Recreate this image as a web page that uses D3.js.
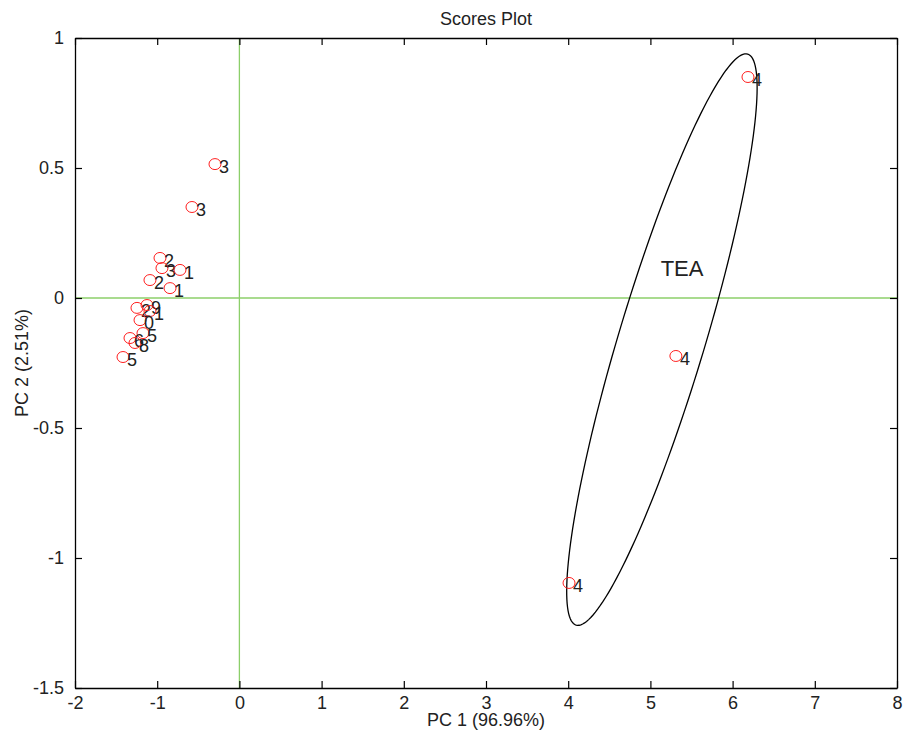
<!DOCTYPE html>
<html>
<head>
<meta charset="utf-8">
<script src="https://cdn.jsdelivr.net/npm/d3@7"></script>
<style>
  body { margin: 0; background: #fff; }
  text { font-family: "Liberation Sans", Arial, sans-serif; }
</style>
</head>
<body>
<div id="container"></div>
<script>
// scores (PC1, PC2) and the label drawn next to each point
let pc1 = [-0.297, -0.577, -0.966, -0.942, -0.723, -1.088, -0.844,
           -1.246, -1.124, -1.088, -1.209, -1.173, -1.331, -1.27, -1.416,
           6.187, 5.31, 4.01];
let pc2 = [0.515, 0.35, 0.154, 0.115, 0.108, 0.069, 0.038,
           -0.038, -0.027, -0.05, -0.085, -0.135, -0.154, -0.173, -0.227,
           0.85, -0.223, -1.096];
let pointLabels = ["3", "3", "2", "3", "1", "2", "1",
                   "2", "9", "1", "0", "5", "6", "8", "5",
                   "4", "4", "4"];

// tick values
let xTicks = [-2, -1, 0, 1, 2, 3, 4, 5, 6, 7, 8];
let yTicks = [-1.5, -1, -0.5, 0, 0.5, 1];

// confidence ellipse round the TEA group (centre + two half-axis vectors, data units)
let ellipseCenter = [5.14, -0.16];
let ellipseMajor = [1.044, 1.098];
let ellipseMinor = [0.502, -0.048];
let groupLabel = { text: "TEA", x: 5.125, y: 0.085 };

let w = 903;
let h = 736;
let padLeft = 75, padRight = 897, padTop = 38, padBottom = 688;
let green = "#8ccf6a";
let fontSize = 18;

let viz = d3.select("#container")
  .append("svg")
    .attr("width", w)
    .attr("height", h);

let xScale = d3.scaleLinear().domain([-2, 8]).range([padLeft, padRight]);
let yScale = d3.scaleLinear().domain([-1.5, 1]).range([padBottom, padTop]);

let fmt = function(d){ return String(d); };

// zero lines
viz.append("line")
  .attr("x1", xScale(0)).attr("x2", xScale(0))
  .attr("y1", padTop).attr("y2", padBottom)
  .attr("stroke", green).attr("stroke-width", 1.3);
viz.append("line")
  .attr("x1", padLeft).attr("x2", padRight)
  .attr("y1", yScale(0)).attr("y2", yScale(0))
  .attr("stroke", green).attr("stroke-width", 1.3);

// axes, ticks pointing inward on all four sides
let xAxisGroup = viz.append("g")
  .attr("transform", "translate(0," + padBottom + ")")
  .call(d3.axisBottom(xScale).tickValues(xTicks).tickFormat(fmt).tickSizeInner(-7).tickSizeOuter(0).tickPadding(8));
let xTopGroup = viz.append("g")
  .attr("transform", "translate(0," + padTop + ")")
  .call(d3.axisTop(xScale).tickValues(xTicks).tickFormat("").tickSizeInner(-7).tickSizeOuter(0));
let yAxisGroup = viz.append("g")
  .attr("transform", "translate(" + padLeft + ",0)")
  .call(d3.axisLeft(yScale).tickValues(yTicks).tickFormat(fmt).tickSizeInner(-7).tickSizeOuter(0).tickPadding(11));
let yRightGroup = viz.append("g")
  .attr("transform", "translate(" + padRight + ",0)")
  .call(d3.axisRight(yScale).tickValues(yTicks).tickFormat("").tickSizeInner(-7).tickSizeOuter(0));

viz.selectAll(".domain").attr("stroke", "#000").attr("stroke-width", 1.3);
viz.selectAll(".tick line").attr("stroke", "#000").attr("stroke-width", 1.2);
viz.selectAll(".tick text")
  .attr("fill", "#222")
  .attr("font-size", fontSize)
  .attr("font-family", "'Liberation Sans', Arial, sans-serif");

// ellipse
let ellipsePts = d3.range(0, 2 * Math.PI, Math.PI / 90).map(function(t){
  return [
    ellipseCenter[0] + ellipseMajor[0] * Math.cos(t) + ellipseMinor[0] * Math.sin(t),
    ellipseCenter[1] + ellipseMajor[1] * Math.cos(t) + ellipseMinor[1] * Math.sin(t)
  ];
});
let line = d3.line()
  .x(function(d){ return xScale(d[0]); })
  .y(function(d){ return yScale(d[1]); })
  .curve(d3.curveLinearClosed);
viz.append("path")
  .attr("d", line(ellipsePts))
  .attr("fill", "none")
  .attr("stroke", "#000")
  .attr("stroke-width", 1.3);

viz.append("text")
  .text(groupLabel.text)
  .attr("x", xScale(groupLabel.x))
  .attr("y", yScale(groupLabel.y))
  .attr("font-size", 22)
  .attr("fill", "#222");

// points
let points = pc1.map(function(v, i){ return { x: v, y: pc2[i], label: pointLabels[i] }; });

let groups = viz.append("g").selectAll(".datapoint").data(points).enter()
  .append("g")
    .attr("class", "datapoint")
    .attr("transform", function(d){
      return "translate(" + xScale(d.x) + "," + yScale(d.y) + ")";
    });
groups.append("ellipse")
  .attr("rx", 6)
  .attr("ry", 5.5)
  .attr("fill", "none")
  .attr("stroke", "#ff2020")
  .attr("stroke-width", 1);
groups.append("text")
  .text(function(d){ return d.label; })
  .attr("x", 4)
  .attr("y", 9)
  .attr("font-size", fontSize)
  .attr("fill", "#222");

// titles
viz.append("text")
  .text("Scores Plot")
  .attr("x", (padLeft + padRight) / 2)
  .attr("y", 25)
  .attr("text-anchor", "middle")
  .attr("font-size", fontSize)
  .attr("fill", "#222");
viz.append("text")
  .text("PC 1 (96.96%)")
  .attr("x", (padLeft + padRight) / 2)
  .attr("y", 726)
  .attr("text-anchor", "middle")
  .attr("font-size", fontSize)
  .attr("fill", "#222");
viz.append("text")
  .text("PC 2 (2.51%)")
  .attr("transform", "translate(28," + ((padTop + padBottom) / 2) + ") rotate(-90)")
  .attr("text-anchor", "middle")
  .attr("font-size", fontSize)
  .attr("fill", "#222");
</script>
</body>
</html>
